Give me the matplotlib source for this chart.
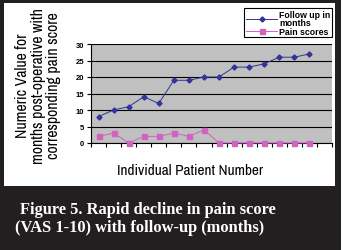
import matplotlib
matplotlib.use("Agg")
import matplotlib.pyplot as plt
from matplotlib.patches import Rectangle
import numpy as np

categories = list(range(1, 17))  # 16 category slots, last one empty
follow_up = [8, 10, 11, 14, 12, 19, 19, 20, 20, 23, 23, 24, 26, 26, 27]
pain_scores = [2, 3, 0, 2, 2, 3, 2, 4, 0, 0, 0, 0, 0, 0, 0]
y_ticks = [0, 5, 10, 15, 20, 25, 30]
legend_labels = ["Follow up in\nmonths", "Pain scores"]
y_label = "Numeric Value for\nmonths post-operative with\ncorresponding pain score"
x_label = "Individual Patient Number"
caption1 = "Figure 5. Rapid decline in pain score"
caption2 = "(VAS 1-10) with follow-up (months)"

W, H = 344, 251
fig = plt.figure(figsize=(W / 100, H / 100), dpi=100)
fig.patch.set_facecolor("white")

def fx(x):
    return x / W

def fy(y):
    return 1 - y / H

dark = "#231f20"
fig.patches.append(Rectangle((0, 0), fx(341), 1, transform=fig.transFigure,
                             facecolor=dark, edgecolor="none", zorder=0))
fig.patches.append(Rectangle((fx(4), fy(187)), fx(335) - fx(4), fy(4) - fy(187),
                             transform=fig.transFigure, facecolor="white",
                             edgecolor="none", zorder=0.5))

narrow = ["Archivo Narrow", "PT Sans Narrow", "DejaVu Sans"]
boldfont = ["Liberation Sans", "DejaVu Sans"]

ax = fig.add_axes([fx(91), fy(144), fx(332) - fx(91), fy(45) - fy(144)])
ax.set_zorder(2)
ax.set_facecolor("#c0c0c0")
x = np.arange(len(follow_up))
ax.plot(x, follow_up, color="#333399", lw=0.7, marker="D", ms=2.6,
        label=legend_labels[0], zorder=4, clip_on=False)
ax.plot(x, pain_scores, color="#d063c0", lw=0.7, marker="s", ms=3.6,
        label=legend_labels[1], zorder=4, clip_on=False)

ax.set_xlim(-0.5, len(categories) - 0.5)
ax.set_ylim(0, 30)
ax.set_yticks(y_ticks)
ax.set_yticklabels([str(v) for v in y_ticks], fontsize=5.5, fontweight="bold",
                   family=boldfont)
ax.set_xticks(np.arange(-0.5, len(categories), 1))
ax.set_xticklabels([])
ax.tick_params(axis="both", direction="out", length=3, width=0.8, color="black", pad=2)
ax.yaxis.grid(True, color="black", lw=0.8)
ax.set_axisbelow(True)
for s in ["top", "right"]:
    ax.spines[s].set_visible(False)
for s in ["left", "bottom"]:
    ax.spines[s].set_color("black")
    ax.spines[s].set_linewidth(0.8)

leg = ax.legend(loc="upper right", bbox_to_anchor=(fx(332), fy(9)),
                bbox_transform=fig.transFigure, frameon=True, fancybox=False,
                edgecolor="black", framealpha=1, borderpad=0.2, labelspacing=0.0,
                handlelength=3.6, handletextpad=0.2, borderaxespad=0,
                prop={"family": boldfont, "weight": "bold", "size": 6.3})
leg.get_frame().set_linewidth(0.8)
for t in leg.get_texts():
    t.set_linespacing(0.85)

fig.text(fx(38), fy(86), y_label, rotation=90, ha="center", va="center",
         fontsize=11.3, family=narrow, color="black", linespacing=1.05,
         multialignment="center", zorder=3)
fig.text(fx(190), fy(171), x_label, ha="center", va="center", fontsize=11,
         family=narrow, color="black", zorder=3)

fig.text(fx(20), fy(210), caption1, ha="left", va="center", fontsize=11.8,
         family=["Liberation Serif", "DejaVu Serif"], fontweight="bold", color="white", zorder=3)
fig.text(fx(15), fy(228), caption2, ha="left", va="center", fontsize=11.8,
         family=["Liberation Serif", "DejaVu Serif"], fontweight="bold", color="white", zorder=3)

fig.savefig("out.png", dpi=100, facecolor=fig.get_facecolor())
